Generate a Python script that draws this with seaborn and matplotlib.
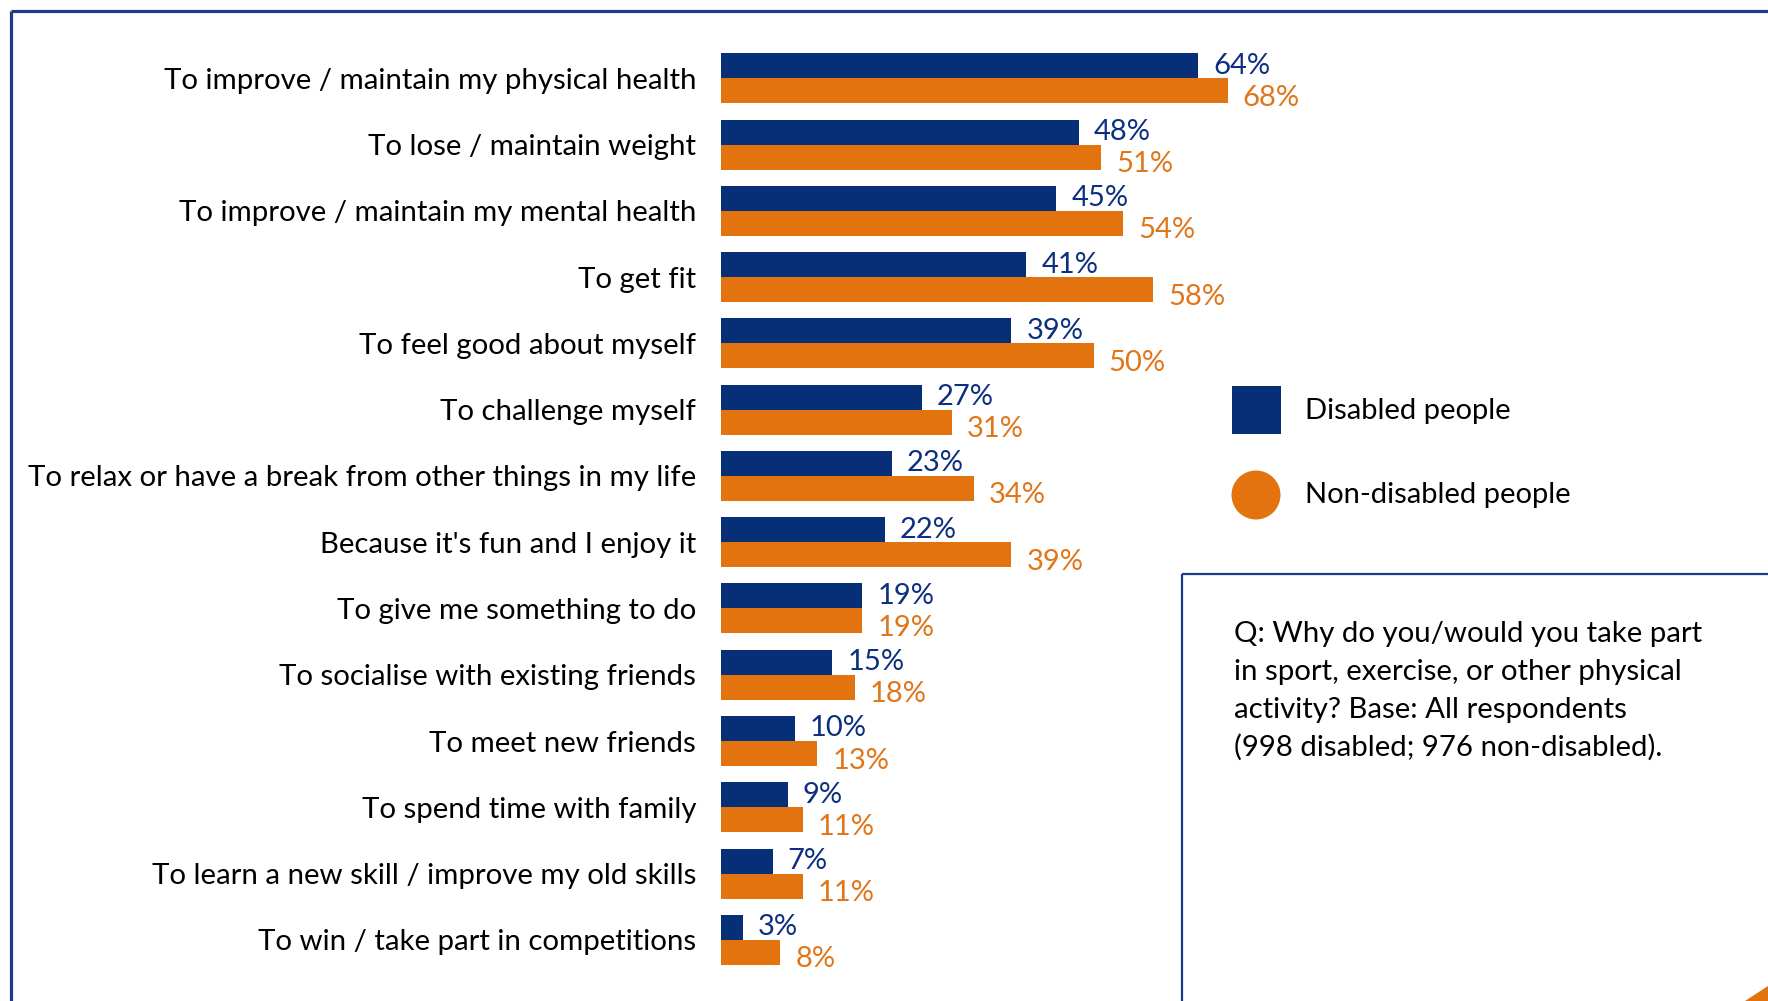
import matplotlib
matplotlib.use("Agg")
import matplotlib.pyplot as plt
from matplotlib.patches import Rectangle, Circle, Polygon
import seaborn as sns
import pandas as pd

# Survey answers: reasons for taking part in sport / physical activity
reasons = [
    "To improve / maintain my physical health",
    "To lose / maintain weight",
    "To improve / maintain my mental health",
    "To get fit",
    "To feel good about myself",
    "To challenge myself",
    "To relax or have a break from other things in my life",
    "Because it's fun and I enjoy it",
    "To give me something to do",
    "To socialise with existing friends",
    "To meet new friends",
    "To spend time with family",
    "To learn a new skill / improve my old skills",
    "To win / take part in competitions",
]
disabled = [64, 48, 45, 41, 39, 27, 23, 22, 19, 15, 10, 9, 7, 3]
non_disabled = [68, 51, 54, 58, 50, 31, 34, 39, 19, 18, 13, 11, 11, 8]
groups = ["Disabled people", "Non-disabled people"]
question_lines = [
    "Q: Why do you/would you take part",
    "in sport, exercise, or other physical",
    "activity? Base: All respondents",
    "(998 disabled; 976 non-disabled).",
]

BLUE = "#062F77"
ORANGE = "#E2730F"
FRAME = "#1D3C87"
FONT = ["Lato", "DejaVu Sans"]

df = pd.DataFrame({
    "reason": reasons * 2,
    "value": disabled + non_disabled,
    "group": [groups[0]] * len(reasons) + [groups[1]] * len(reasons),
})

sns.set_theme(style="white")
plt.rcParams["font.family"] = FONT

W, H = 1768, 1001
fig = plt.figure(figsize=(W / 100, H / 100), dpi=100)
fig.patch.set_facecolor("white")

# Overlay in pixel coordinates for frame, legend and note box
over = fig.add_axes([0, 0, 1, 1])
over.set_xlim(0, W)
over.set_ylim(H, 0)
over.axis("off")
over.patch.set_alpha(0)

over.plot([11, W], [11, 11], color=FRAME, lw=2.3, solid_capstyle="butt")
over.plot([11, 11], [11, H], color=FRAME, lw=2.3, solid_capstyle="butt")
over.plot([1182, W], [574, 574], color=FRAME, lw=1.6, solid_capstyle="butt")
over.plot([1182, 1182], [574, H], color=FRAME, lw=1.6, solid_capstyle="butt")
over.add_patch(Polygon([[1745, H], [W, 986], [W, H]], closed=True,
                       facecolor=ORANGE, edgecolor="none"))

# Legend
over.add_patch(Rectangle((1232, 386), 49, 48, facecolor=BLUE, edgecolor="none"))
over.add_patch(Circle((1256, 495), 24.5, facecolor=ORANGE, edgecolor="none"))
over.text(1305, 411, groups[0], fontsize=21, color="black", va="center", ha="left")
over.text(1305, 495, groups[1], fontsize=21, color="black", va="center", ha="left")

# Question / base note
for i, line in enumerate(question_lines):
    over.text(1234, 634 + i * 37.8, line, fontsize=21.2, color="black",
              va="center", ha="left")

# Bar chart axes: 1 percentage point = 7.46 px
px_per_pct = 7.46
ax_left, ax_w = 720.5, 640
row_h = 66.26
ax_top = 78.4 - row_h / 2
ax_h = row_h * len(reasons)
ax = fig.add_axes([ax_left / W, 1 - (ax_top + ax_h) / H, ax_w / W, ax_h / H])
ax.patch.set_alpha(0)

sns.barplot(data=df, x="value", y="reason", hue="group", orient="h",
            palette=[BLUE, ORANGE], saturation=1, width=0.755, linewidth=0,
            legend=False, ax=ax)

ax.set_xlim(0, ax_w / px_per_pct)
ax.set_ylim(len(reasons) - 0.5, -0.5)
ax.set_xlabel("")
ax.set_ylabel("")
ax.set_xticks([])
for s in ax.spines.values():
    s.set_visible(False)
ax.tick_params(axis="y", length=0, pad=17.6, labelsize=21.2, labelcolor="black")

# Value labels next to each bar
n = len(reasons)
for i, patch in enumerate(ax.patches[: 2 * n]):
    series = 0 if i < n else 1
    idx = i % n
    val = disabled[idx] if series == 0 else non_disabled[idx]
    yc = patch.get_y() + patch.get_height() / 2
    color = "#0D2F80" if series == 0 else "#E0761A"
    dy = 0 if series == 0 else -7
    ax.annotate(f"{val}%", xy=(val, yc), xytext=(15, dy),
                textcoords="offset pixels", va="center", ha="left",
                fontsize=21, color=color)

fig.savefig("out.png", dpi=100, facecolor="white")
